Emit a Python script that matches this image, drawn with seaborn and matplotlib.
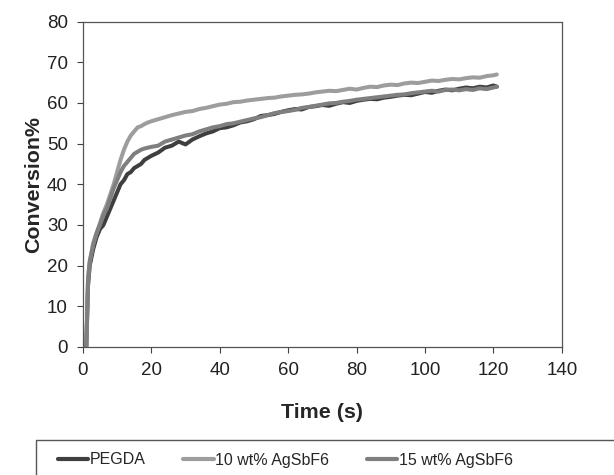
import pandas as pd
import matplotlib
matplotlib.use("Agg")
import matplotlib.pyplot as plt
import seaborn as sns
from matplotlib.patches import Rectangle

# Data
time_s = [0, 1, 1.5, 2, 3, 4, 5, 6, 7, 8, 9, 10, 11, 12, 13, 14, 15, 16, 17, 18, 19, 20,
          22, 24, 26, 28, 30, 32, 34, 36, 38, 40, 42, 44, 46, 48, 50, 52, 54, 56, 58, 60,
          62, 64, 66, 68, 70, 72, 74, 76, 78, 80, 82, 84, 86, 88, 90, 92, 94, 96, 98, 100,
          102, 104, 106, 108, 110, 112, 114, 116, 118, 120, 121]

pegda = [0, 0, 15, 20, 24, 27, 29, 30, 32, 34, 36, 38, 40, 41, 42.5, 43, 44, 44.5, 45, 46, 46.5, 47,
         47.8, 49, 49.5, 50.5, 49.8, 51, 51.8, 52.5, 53, 53.8, 54, 54.5, 55.2, 55.5, 56, 56.8, 57, 57.3, 57.8, 58.2,
         58.5, 58.4, 59, 59.2, 59.5, 59.3, 59.8, 60.2, 60, 60.5, 60.8, 61, 60.9, 61.3, 61.5, 61.8, 62, 61.9, 62.3, 62.7,
         62.5, 63, 63.3, 63.1, 63.5, 63.8, 63.6, 64, 63.8, 64.3, 64]

agsbf6_10 = [0, 0, 17, 21, 25.5, 28, 30.5, 33, 35, 37.5, 40, 43, 46, 48.5, 50.5, 52, 53, 54, 54.3, 54.8, 55.2, 55.5,
             56, 56.5, 57, 57.4, 57.8, 58, 58.5, 58.8, 59.2, 59.6, 59.8, 60.2, 60.3, 60.6, 60.8, 61, 61.2, 61.3, 61.6, 61.8,
             62, 62.1, 62.3, 62.6, 62.8, 63, 62.9, 63.2, 63.5, 63.3, 63.7, 64, 63.9, 64.3, 64.5, 64.4, 64.8, 65, 64.9, 65.2,
             65.5, 65.4, 65.7, 65.9, 65.8, 66.1, 66.3, 66.2, 66.6, 66.8, 67]

agsbf6_15 = [0, 0, 16, 21, 25, 28, 30, 32.5, 34, 36.5, 39, 41, 43, 44.5, 45.5, 46.5, 47.5, 48, 48.5, 48.8, 49, 49.2,
             49.5, 50.5, 51, 51.5, 52, 52.3, 53, 53.5, 54, 54.3, 54.8, 55, 55.4, 55.8, 56.2, 56.5, 57, 57.5, 57.8, 58,
             58.3, 58.8, 59, 59.3, 59.6, 59.9, 60, 60.3, 60.5, 60.8, 61, 61.2, 61.4, 61.6, 61.8, 62, 62.1, 62.4, 62.6, 62.8,
             63, 62.8, 63.2, 63.3, 63.1, 63.4, 63.2, 63.6, 63.4, 63.8, 64]

series_names = ["PEGDA", "10 wt% AgSbF6", "15 wt% AgSbF6"]
colors = ["#3f3f3f", "#9d9d9d", "#7f7f7f"]

df = pd.concat([
    pd.DataFrame({"Time": time_s, "Conversion": vals, "Sample": name})
    for name, vals in zip(series_names, [pegda, agsbf6_10, agsbf6_15])
])

sns.set_theme(style="ticks")
plt.rcParams["font.family"] = ["Liberation Sans", "DejaVu Sans"]

fig = plt.figure(figsize=(6.14, 4.75), dpi=100)
ax = fig.add_axes([0.135, 0.2695, 0.78, 0.685])

sns.lineplot(
    data=df, x="Time", y="Conversion", hue="Sample",
    hue_order=series_names, palette=colors,
    linewidth=2.9, ax=ax, legend=False
)

ax.set_xlim(0, 140)
ax.set_ylim(0, 80)
ax.set_xticks(range(0, 141, 20))
ax.set_yticks(range(0, 81, 10))
ax.set_xlabel("Time (s)", fontsize=15.4, fontweight="bold", labelpad=17)
ax.set_ylabel("Conversion%", fontsize=15.4, fontweight="bold", labelpad=3)
ax.tick_params(labelsize=13.5, length=4.3, width=0.8, pad=6.5,
               color="#404040", labelcolor="#222222")
for side in ["top", "right", "left", "bottom"]:
    ax.spines[side].set_visible(True)
    ax.spines[side].set_color("#555555")
    ax.spines[side].set_linewidth(0.9)

# legend below the chart, box runs off the right and bottom edge
handles = [plt.Line2D([], [], color=c, linewidth=3.0) for c in colors]
fig.legend(
    handles, series_names, loc="center left",
    bbox_to_anchor=(0.084, 1 - 460 / 475), ncol=3, frameon=False,
    fontsize=11.5, handlelength=1.9, handletextpad=0.1, columnspacing=2.35,
    borderaxespad=0
)
fig.patches.append(Rectangle(
    (36 / 614, -0.1), 1.0, 0.1 + 35 / 475, transform=fig.transFigure,
    fill=False, edgecolor="#555555", linewidth=1.0
))

fig.savefig("out.png", dpi=100)
